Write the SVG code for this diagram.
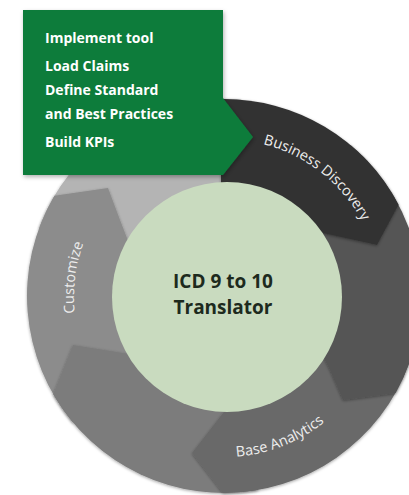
<svg xmlns="http://www.w3.org/2000/svg" xmlns:xlink="http://www.w3.org/1999/xlink" width="409" height="495" viewBox="0 0 409 495">
  <style>
    .seg { filter: url(#sh); }
    .arc-label { font-family: "Open Sans", "Liberation Sans", sans-serif; font-size: 14.5px; fill: #eeeeee; }
    .box-text { font-family: "Open Sans", "Liberation Sans", sans-serif; font-weight: bold; font-size: 14px; fill: #ffffff; }
    .center-text { font-family: "Open Sans", "Liberation Sans", sans-serif; font-weight: bold; font-size: 19px; fill: #1d2a1d; text-anchor: middle; }
  </style>
  <defs>
    <filter id="sh" x="-10%" y="-10%" width="120%" height="120%">
      <feDropShadow dx="0" dy="1" stdDeviation="1.5" flood-color="#000" flood-opacity="0.35"/>
    </filter>
    <filter id="boxsh" x="-10%" y="-10%" width="125%" height="125%">
      <feDropShadow dx="1" dy="2" stdDeviation="2" flood-color="#000" flood-opacity="0.3"/>
    </filter>
    <path id="p-bd" d="M196.7,141.4 A157,157 0 0,1 380.6,285"/>
    <path id="p-ba" d="M182.3,451.5 A160,160 0 0,0 360.5,381.3"/>
    <path id="p-cu" d="M83,347.3 A150,150 0 0,1 99.6,212.1"/>
  </defs>

  <rect width="409" height="495" fill="#ffffff"/>

  <g id="seg-top-left">
    <path class="seg" fill="#b4b4b4" d="M139.4,265.2 L38.9,228.6 A197,197 0 0,1 241.2,99.7 L231.8,206.3 A90,90 0 0,0 139.4,265.2 Z"/>
  </g>

  <g id="customize">
    <path class="seg" fill="#8c8c8c" d="M155.1,353.9 L73.1,422.6 A197,197 0 0,1 54.4,195.7 L108,188 L120,220 L130,246 Z"/>
    <text class="arc-label"><textPath xlink:href="#p-cu" href="#p-cu" startOffset="50%" text-anchor="middle">Customize</textPath></text>
  </g>

  <g id="seg-bottom-left">
    <path class="seg" fill="#7c7c7c" d="M239.6,384.6 L258.2,490 A197,197 0 0,1 53.2,394.2 L73,345 L117,352 L140,356 Z"/>
  </g>

  <g id="base-analytics">
    <path class="seg" fill="#696969" d="M308.6,326.8 L409.1,363.4 A197,197 0 0,1 223,493 L192,453 L220,417 L235,398 Z"/>
    <text class="arc-label"><textPath xlink:href="#p-ba" href="#p-ba" startOffset="50%" text-anchor="middle">Base Analytics</textPath></text>
  </g>

  <g id="seg-right">
    <path class="seg" fill="#555555" d="M281.9,227.1 L350.6,145.1 A197,197 0 0,1 395.5,393 L343,400 L330,370 L315,340 Z"/>
  </g>

  <g id="business-discovery">
    <path class="seg" fill="#333333" d="M221,99 A197,197 0 0,1 398.6,204.7 L377,245 L300,228 L221,200 Z"/>
    <text class="arc-label"><textPath xlink:href="#p-bd" href="#p-bd" startOffset="50%" text-anchor="middle">Business Discovery</textPath></text>
  </g>

  <g id="translator">
    <circle cx="227" cy="297" r="115" fill="#c9dbbf"/>
    <text class="center-text" x="223" y="288">ICD 9 to 10</text>
    <text class="center-text" x="223" y="314">Translator</text>
  </g>

  <g id="tasks">
    <path fill="#0c7b3b" filter="url(#boxsh)" d="M23,10 H223 V98 L253,137 L223,175 H23 Z"/>
    <text class="box-text" x="45" y="43">Implement tool</text>
    <text class="box-text" x="45" y="71">Load Claims</text>
    <text class="box-text" x="45" y="95">Define Standard</text>
    <text class="box-text" x="45" y="119">and Best Practices</text>
    <text class="box-text" x="45" y="147">Build KPIs</text>
  </g>

  <g id="connectors"/>
</svg>
